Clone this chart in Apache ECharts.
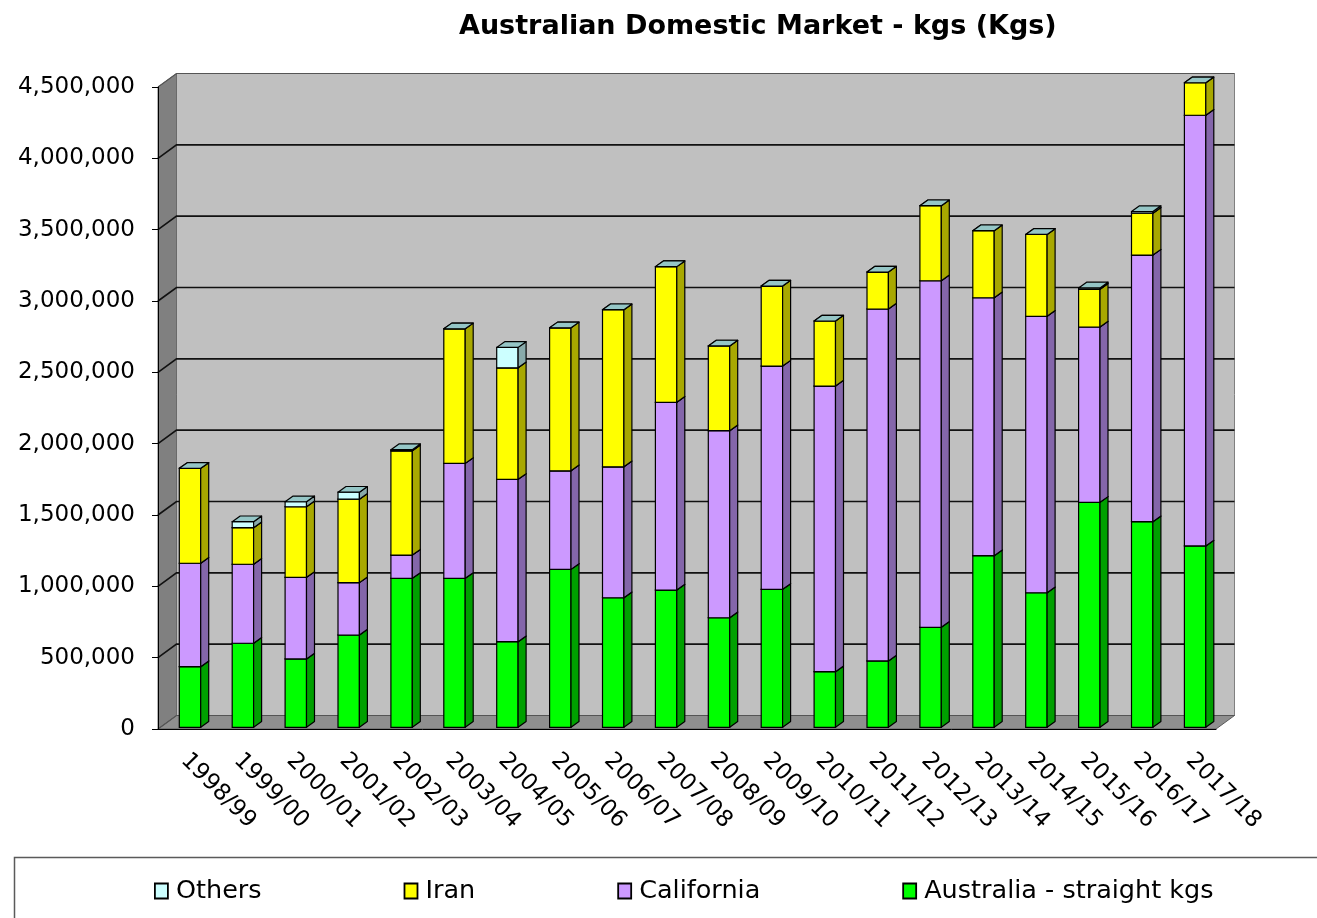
<!DOCTYPE html>
<html>
<head>
<meta charset="utf-8">
<title>Australian Domestic Market - kgs (Kgs)</title>
<script src="https://cdn.jsdelivr.net/npm/echarts@6/dist/echarts.min.js"></script>
<style>
    html, body { margin: 0; padding: 0; background: #fff; }
    #main { width: 1317px; height: 918px; }
</style>
</head>
<body>
<div id="main"></div>
<script>
var seasons = ['1998/99', '1999/00', '2000/01', '2001/02', '2002/03', '2003/04', '2004/05',
    '2005/06', '2006/07', '2007/08', '2008/09', '2009/10', '2010/11', '2011/12', '2012/13',
    '2013/14', '2014/15', '2015/16', '2016/17', '2017/18'];

// kgs
var australia = [425000, 589000, 479000, 647000, 1044000, 1044000, 600000, 1107000, 908000, 962000,
    768000, 967000, 390000, 465000, 701000, 1203000, 943000, 1577000, 1441000, 1271000];
var california = [725000, 554000, 572000, 367000, 163000, 806000, 1138000, 691000, 918000, 1316000,
    1311000, 1565000, 2002000, 2467000, 2429000, 1808000, 1938000, 1229000, 1869000, 3019000];
var iran = [665000, 256000, 495000, 585000, 731000, 943000, 782000, 1002000, 1101000, 951000,
    594000, 561000, 456000, 259000, 526000, 470000, 574000, 264000, 293000, 228000];
var others = [0, 42000, 35000, 49000, 8000, 0, 143000, 0, 0, 0,
    0, 0, 0, 0, 0, 0, 0, 10000, 12000, 0];

var yTicks = [0, 500000, 1000000, 1500000, 2000000, 2500000, 3000000, 3500000, 4000000, 4500000];

var FONT = 'DejaVu Sans';

// fake 3d, px
var DEPTH_X = 18.5, DEPTH_Y = -13.5;   // walls / floor depth
var BAR_OFF = 21.3, BAR_W = 21.4;      // bar front face inside its band
var BAR_DX = 8, BAR_DY = -5.7;         // bar side depth
var BAR_LIFT = 1.7;

var myChart = echarts.init(document.getElementById('main'));

// [index, from, to] rows for one stacked layer
function stackRows(values, below) {
    var rows = [];
    for (var i = 0; i < values.length; i++) {
        var base = 0;
        for (var k = 0; k < below.length; k++) {
            base += below[k][i];
        }
        rows.push([i, base, base + values[i]]);
    }
    return rows;
}

function wallRenderer(params, api) {
    var cs = params.coordSys;
    var left = cs.x, right = cs.x + cs.width;
    var top = cs.y, bottom = cs.y + cs.height;
    var dx = DEPTH_X, dy = DEPTH_Y;
    var children = [];
    children.push({
        type: 'rect',
        shape: {x: left + dx, y: top + dy, width: cs.width, height: cs.height},
        style: {fill: '#c0c0c0', stroke: '#808080', lineWidth: 1}
    });
    children.push({
        type: 'polygon',
        shape: {points: [[left, top], [left + dx, top + dy], [left + dx, bottom + dy], [left, bottom]]},
        style: {fill: '#808080', stroke: '#6a6a6a', lineWidth: 1}
    });
    children.push({
        type: 'polygon',
        shape: {points: [[left, bottom], [left + dx, bottom + dy], [right + dx, bottom + dy], [right, bottom]]},
        style: {fill: '#8f8f8f', stroke: '#5a5a5a', lineWidth: 1}
    });
    for (var i = 0; i < yTicks.length; i++) {
        var y = api.coord([0, yTicks[i]])[1];
        var edge = (i === 0 || i === yTicks.length - 1);
        children.push({
            type: 'polyline',
            shape: {points: [[left, y], [left + dx, y + dy], [right + dx, y + dy]]},
            style: {fill: null, stroke: edge ? '#555' : '#111', lineWidth: edge ? 1.2 : 1.6}
        });
    }
    return {type: 'group', children: children};
}

function barRenderer(front, side, topFace) {
    return function (params, api) {
        var i = api.value(0);
        var lo = api.coord([i, api.value(1)]);
        var hi = api.coord([i, api.value(2)]);
        var bw = api.size([1, 0])[0];
        var x0 = lo[0] - bw / 2 + BAR_OFF;
        var x1 = x0 + BAR_W;
        var yb = lo[1] - BAR_LIFT;
        var yt = hi[1] - BAR_LIFT;
        var children = [];
        if (yb - yt > 0.4) {
            children.push({
                type: 'rect',
                shape: {x: x0, y: yt, width: BAR_W, height: yb - yt},
                style: {fill: front, stroke: '#000', lineWidth: 1.2}
            });
            children.push({
                type: 'polygon',
                shape: {points: [[x1, yb], [x1 + BAR_DX, yb + BAR_DY], [x1 + BAR_DX, yt + BAR_DY], [x1, yt]]},
                style: {fill: side, stroke: '#000', lineWidth: 1.2, lineJoin: 'round'}
            });
        }
        children.push({
            type: 'polygon',
            shape: {points: [[x0, yt], [x0 + BAR_DX, yt + BAR_DY], [x1 + BAR_DX, yt + BAR_DY], [x1, yt]]},
            style: {fill: topFace, stroke: '#000', lineWidth: 1.2, lineJoin: 'round'}
        });
        return {type: 'group', children: children};
    };
}

var layers = [
    {name: 'Australia - straight kgs', values: australia, front: '#00ff00', side: '#00a000', top: '#00c000'},
    {name: 'California', values: california, front: '#cc99ff', side: '#8466aa', top: '#a57fd6'},
    {name: 'Iran', values: iran, front: '#ffff00', side: '#a8a800', top: '#cccc00'},
    {name: 'Others', values: others, front: '#ccffff', side: '#88aaaa', top: '#95c6c6'}
];

var series = [{
    type: 'custom',
    silent: true,
    z: 1,
    renderItem: wallRenderer,
    encode: {x: 0, y: 1},
    data: [[0, 0]]
}];
var below = [];
layers.forEach(function (layer) {
    series.push({
        type: 'custom',
        name: layer.name,
        z: 2,
        itemStyle: {color: layer.front},
        renderItem: barRenderer(layer.front, layer.side, layer.top),
        encode: {x: 0, y: 2},
        data: stackRows(layer.values, below)
    });
    below.push(layer.values);
});

var option = {
    animation: false,
    backgroundColor: '#fff',
    title: {
        text: 'Australian Domestic Market - kgs (Kgs)',
        left: 454,
        top: 8,
        textStyle: {fontFamily: FONT, fontWeight: 'bold', fontSize: 27, color: '#000'}
    },
    grid: {left: 158, right: 101, top: 87, bottom: 189},
    xAxis: {
        type: 'category',
        data: seasons,
        z: 5,
        axisLine: {lineStyle: {color: '#000', width: 1}},
        axisTick: {length: 7, lineStyle: {color: '#000'}},
        axisLabel: {
            interval: 0,
            rotate: -45,
            margin: 28,
            color: '#000',
            fontFamily: FONT,
            fontSize: 23
        },
        splitLine: {show: false}
    },
    yAxis: {
        type: 'value',
        min: 0,
        max: 4500000,
        interval: 500000,
        z: 5,
        axisLine: {show: true, lineStyle: {color: '#000', width: 1}},
        axisTick: {show: true, length: 6, lineStyle: {color: '#000'}},
        axisLabel: {
            margin: 23,
            color: '#000',
            fontFamily: FONT,
            fontSize: 23,
            formatter: function (v) {
                return String(v).replace(/\B(?=(\d{3})+(?!\d))/g, ',');
            }
        },
        splitLine: {show: false}
    },
    legend: {
        data: ['Others', 'Iran', 'California', 'Australia - straight kgs'],
        left: 149,
        top: 873,
        icon: 'rect',
        itemWidth: 13,
        itemHeight: 15,
        itemGap: 142,
        selectedMode: false,
        itemStyle: {borderColor: '#000', borderWidth: 1.8},
        textStyle: {fontFamily: FONT, fontSize: 25.5, color: '#000', padding: [0, 0, 0, 3]}
    },
    graphic: [{
        type: 'rect',
        silent: true,
        shape: {x: 14.5, y: 857.5, width: 1400, height: 100},
        style: {fill: null, stroke: '#5a5a5a', lineWidth: 1.5}
    }],
    series: series
};

myChart.setOption(option);
</script>
</body>
</html>
